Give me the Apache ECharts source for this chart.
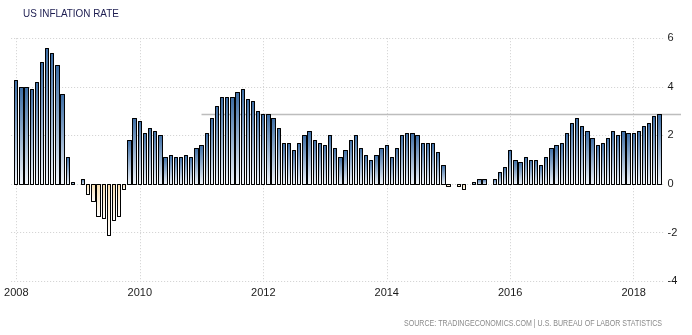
<!DOCTYPE html>
<html>
<head>
<meta charset="utf-8">
<script src="https://cdn.jsdelivr.net/npm/echarts@6/dist/echarts.min.js"></script>
<style>html,body{margin:0;padding:0;background:#fff}#c{width:692px;height:335px}</style>
</head>
<body>
<div id="c"></div>
<script>
// US inflation rate (YoY %), monthly, Jan 2008 - Jun 2018
const years = [2008, 2009, 2010, 2011, 2012, 2013, 2014, 2015, 2016, 2017, 2018];
const v2008 = [4.3, 4.0, 4.0, 3.9, 4.2, 5.0, 5.6, 5.4, 4.9, 3.7, 1.1, 0.1];
const v2009 = [0.0, 0.2, -0.4, -0.7, -1.3, -1.4, -2.1, -1.5, -1.3, -0.2, 1.8, 2.7];
const v2010 = [2.6, 2.1, 2.3, 2.2, 2.0, 1.1, 1.2, 1.1, 1.1, 1.2, 1.1, 1.5];
const v2011 = [1.6, 2.1, 2.7, 3.2, 3.6, 3.6, 3.6, 3.8, 3.9, 3.5, 3.4, 3.0];
const v2012 = [2.9, 2.9, 2.7, 2.3, 1.7, 1.7, 1.4, 1.7, 2.0, 2.2, 1.8, 1.7];
const v2013 = [1.6, 2.0, 1.5, 1.1, 1.4, 1.8, 2.0, 1.5, 1.2, 1.0, 1.2, 1.5];
const v2014 = [1.6, 1.1, 1.5, 2.0, 2.1, 2.1, 2.0, 1.7, 1.7, 1.7, 1.3, 0.8];
const v2015 = [-0.1, 0.0, -0.1, -0.2, 0.0, 0.1, 0.2, 0.2, 0.0, 0.2, 0.5, 0.7];
const v2016 = [1.4, 1.0, 0.9, 1.1, 1.0, 1.0, 0.8, 1.1, 1.5, 1.6, 1.7, 2.1];
const v2017 = [2.5, 2.7, 2.4, 2.2, 1.9, 1.6, 1.7, 1.9, 2.2, 2.0, 2.2, 2.1];
const v2018 = [2.1, 2.2, 2.4, 2.5, 2.8, 2.9];
const yTicks = [-4, -2, 0, 2, 4, 6];
const refLineStart = '2011-01';

const yearly = [v2008, v2009, v2010, v2011, v2012, v2013, v2014, v2015, v2016, v2017, v2018];
const pad2 = m => (m < 10 ? '0' : '') + m;

// categories: one empty month padding on each side
const categories = ['2007-12'];
const values = ['-'];
years.forEach((y, i) => {
  yearly[i].forEach((v, m) => { categories.push(y + '-' + pad2(m + 1)); values.push(v); });
});
categories.push('2018-07'); values.push('-');
const lastValue = v2018[v2018.length - 1];

const barData = [];
values.forEach((v, i) => { if (v !== '-') barData.push([i, v]); });

const isMark = (idx, val) => {
  const p = String(val).split('-');
  return p[1] === '01' && (+p[0]) % 2 === 0;
};

function renderBar(params, api) {
  const i = api.value(0), v = api.value(1);
  if (v === 0) return null;
  const pv = api.coord([i, v]);
  const p0 = api.coord([i, 0]);
  const L = Math.round(pv[0] - 2.15), R = Math.round(pv[0] + 2.15);
  const yv = Math.round(pv[1]), y0 = Math.round(p0[1]);
  const top = Math.min(yv, y0), bot = Math.max(yv, y0);
  const pos = v > 0;
  const fill = new echarts.graphic.LinearGradient(0, 0, 0, 1, pos
    ? [{ offset: 0, color: '#3b6ca4' }, { offset: 1, color: '#f3f7fc' }]
    : [{ offset: 0, color: '#f8deb0' }, { offset: 1, color: '#ffffff' }]);
  return {
    type: 'rect',
    shape: { x: L + 0.5, y: top + 0.5, width: Math.max(R - L - 1, 1), height: Math.max(bot - top, 1) },
    style: { fill: fill, stroke: '#000', lineWidth: 1 }
  };
}

const chart = echarts.init(document.getElementById('c'), null, { renderer: 'canvas' });
chart.setOption({
  animation: false,
  backgroundColor: '#fff',
  grid: { left: 11.15, right: 27.4, top: 38.2, bottom: 335 - 281.2, containLabel: false },
  xAxis: {
    type: 'category', data: categories, boundaryGap: false,
    axisLine: { show: false }, axisTick: { show: false },
    axisLabel: {
      interval: isMark, formatter: v => v.split('-')[0], margin: 6,
      fontFamily: 'Liberation Sans', fontSize: 11, color: '#1a1a1a'
    },
    splitLine: { show: true, interval: isMark, lineStyle: { color: '#cfcfcf', type: [1, 2], width: 1 } }
  },
  yAxis: {
    type: 'value', position: 'right', min: yTicks[0], max: yTicks[yTicks.length - 1], interval: 2,
    axisLine: { show: false }, axisTick: { show: false },
    axisLabel: { margin: 3, fontFamily: 'Liberation Sans', fontSize: 11, color: '#1a1a1a' },
    splitLine: { lineStyle: { color: '#cfcfcf', type: [1, 2], width: 1 } }
  },
  series: [{
    type: 'custom', data: barData, renderItem: renderBar,
    encode: { x: 0, y: 1 }, clip: false, silent: true
  }]
});

// reference line at the latest value, extending past the plot edge
const p0 = chart.convertToPixel({ gridIndex: 0 }, [refLineStart, lastValue]);
chart.setOption({
  graphic: [
    { type: 'line', silent: true, z: 1,
      shape: { x1: p0[0], y1: Math.round(p0[1]) + 0.5, x2: 681, y2: Math.round(p0[1]) + 0.5 },
      style: { stroke: '#bdbdbd', lineWidth: 1.5 } },
    { type: 'text', x: 23, y: 14, scaleX: 0.9, silent: true,
      style: { text: 'US INFLATION RATE', align: 'left', verticalAlign: 'middle',
        font: '11px "Liberation Sans", sans-serif', fill: '#1c1c50' } },
    { type: 'text', x: 662, y: 324, scaleX: 0.83, silent: true,
      style: { text: 'SOURCE: TRADINGECONOMICS.COM | U.S. BUREAU OF LABOR STATISTICS',
        align: 'right', verticalAlign: 'middle',
        font: '8.5px "Liberation Sans", sans-serif', fill: '#8a8a8a' } }
  ]
});
</script>
</body>
</html>
